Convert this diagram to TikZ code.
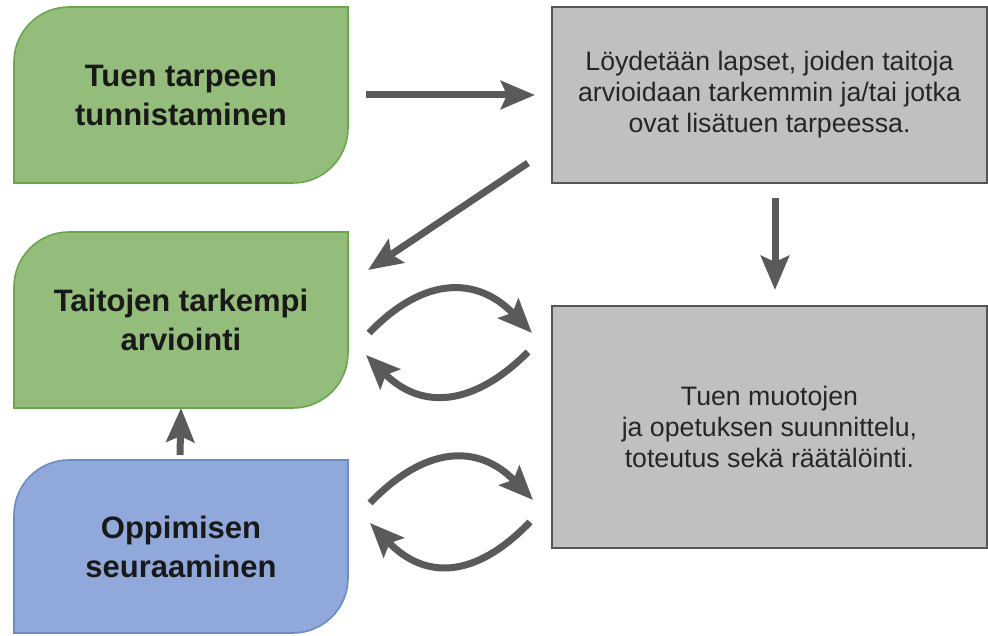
\documentclass[tikz,border=0pt]{standalone}
\usepackage{fontspec}
\setmainfont{Liberation Sans}
\usetikzlibrary{arrows.meta,calc,backgrounds}

\definecolor{leafgreen}{RGB}{148,189,124}
\definecolor{leafgreenline}{RGB}{106,166,78}
\definecolor{leafblue}{RGB}{144,168,218}
\definecolor{leafblueline}{RGB}{108,140,196}
\definecolor{boxgray}{RGB}{192,192,192}
\definecolor{boxgrayline}{RGB}{85,85,85}
\definecolor{arrowgray}{RGB}{90,90,90}

\tikzset{
  leafnode/.style={minimum width=334pt, inner sep=0pt, outer sep=0pt,
    align=center, font=\fontsize{31}{39}\selectfont\bfseries, text=black!90},
  graynode/.style={minimum width=435pt, inner sep=0pt, outer sep=0pt,
    align=center, font=\fontsize{26.7}{31}\selectfont, text=black!85},
  grayframe/.style={fill=boxgray, draw=boxgrayline, line width=2pt},
  flow/.style={draw=arrowgray, line width=7pt,
    -{Stealth[length=34pt, width=28pt, inset=6pt]}},
}

% a box with a rounded top-left and bottom-right corner, drawn around a node
\newcommand{\leafshape}[3]{%
  \path[#3] (#1.south west) -- ([yshift=-#2]#1.north west)
    arc[start angle=180, end angle=90, radius=#2] -- (#1.north east)
    -- ([yshift=#2]#1.south east)
    arc[start angle=0, end angle=-90, radius=#2] -- cycle;}

\begin{document}
\begin{tikzpicture}[x=1pt, y=1pt]
  \useasboundingbox (0,0) rectangle (988,635);

  % left column
  \node[leafnode, minimum height=176pt] (ident) at (181,540)
    {Tuen tarpeen\\tunnistaminen};
  \node[leafnode, minimum height=176pt] (assess) at (181,315)
    {Taitojen tarkempi\\arviointi};
  \node[leafnode, minimum height=173pt] (follow) at (181,88.5)
    {Oppimisen\\seuraaminen};

  % right column
  \node[graynode, minimum height=176pt] (find) at (769.5,540)
    {Löydetään lapset, joiden taitoja\\arvioidaan tarkemmin ja/tai jotka\\ovat lisätuen tarpeessa.};
  \node[graynode, minimum height=242pt] (plan) at (769.5,208)
    {Tuen muotojen\\ja opetuksen suunnittelu,\\toteutus sekä räätälöinti.};

  \begin{scope}[on background layer]
    \leafshape{ident}{55pt}{fill=leafgreen, draw=leafgreenline, line width=1.6pt}
    \leafshape{assess}{55pt}{fill=leafgreen, draw=leafgreenline, line width=1.6pt}
    \leafshape{follow}{55pt}{fill=leafblue, draw=leafblueline, line width=1.6pt}
    \draw[grayframe] (find.south west) rectangle (find.north east);
    \draw[grayframe] (plan.south west) rectangle (plan.north east);
  \end{scope}

  % connector end points
  \coordinate (h1s) at ($(ident.east)+(18,0)$);
  \coordinate (h1e) at ($(find.west)+(-17,0)$);
  \coordinate (d1s) at ($(find.south west)+(-24,20)$);
  \coordinate (d1e) at ($(assess.north east)+(20,-38)$);
  \coordinate (v1s) at ($(find.south)+(5.5,-15)$);
  \coordinate (v1e) at ($(plan.north)+(5.5,16)$);
  \coordinate (u1s) at ($(follow.north)+(-1,5)$);

  \coordinate (a1s) at ($(assess.east)+(21,-13)$);
  \coordinate (a1e) at ($(plan.west)+(-20,94)$);
  \coordinate (b1s) at ($(plan.west)+(-24,75)$);
  \coordinate (b1e) at ($(assess.east)+(18,-35)$);
  \coordinate (a2s) at ($(follow.east)+(22,43.5)$);
  \coordinate (a2e) at ($(plan.west)+(-19,-73)$);
  \coordinate (b2s) at ($(plan.west)+(-22,-95)$);
  \coordinate (b2e) at ($(follow.east)+(22,23.5)$);

  % straight connectors
  \draw[flow] (h1s) -- (h1e);
  \draw[flow] (d1s) -- (d1e);
  \draw[flow] (v1s) -- (v1e);
  \draw[flow] (u1s) -- (assess.south);

  % exchange loops
  \draw[flow] (a1s) .. controls +(55,57) and +(-55,57) .. (a1e);
  \draw[flow] (b1s) .. controls +(-55,-55) and +(55,-55) .. (b1e);
  \draw[flow] (a2s) .. controls +(55,57) and +(-55,57) .. (a2e);
  \draw[flow] (b2s) .. controls +(-55,-57) and +(55,-57) .. (b2e);
\end{tikzpicture}
\end{document}
